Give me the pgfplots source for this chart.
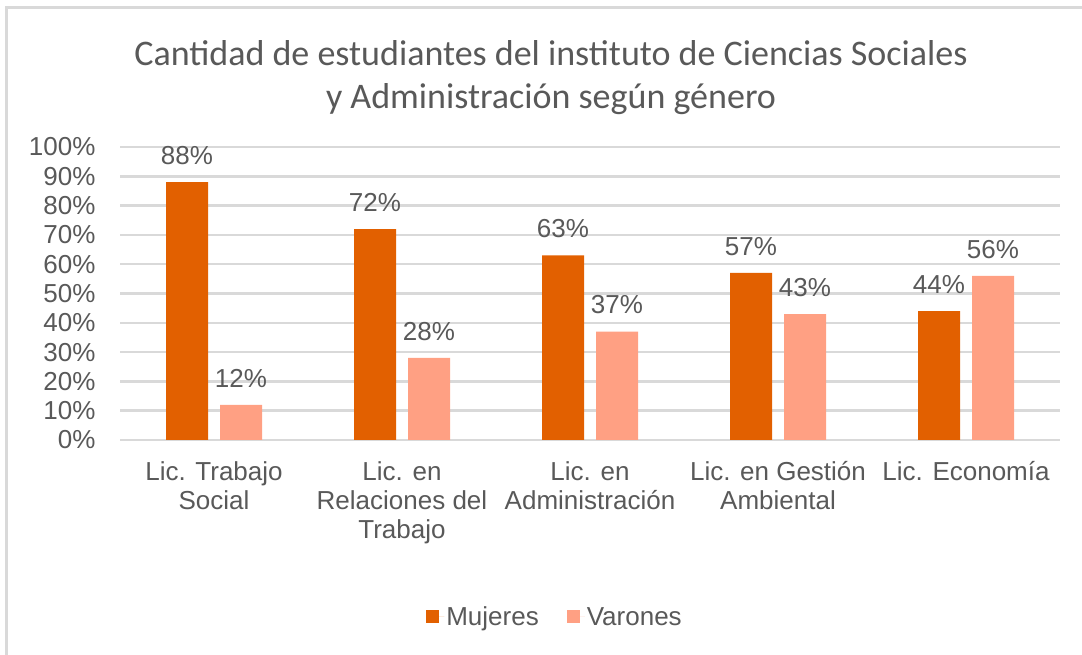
\documentclass[border=0pt]{standalone}
\usepackage{pgfplots}
\pgfplotsset{compat=1.18}
\usepackage{fontspec}
\setmainfont{Liberation Sans}
\newfontfamily\titlefont{Carlito}
\definecolor{muj}{HTML}{E26000}
\definecolor{var}{HTML}{FFA083}
\definecolor{txt}{HTML}{595959}
\definecolor{gridc}{HTML}{D9D9D9}
\begin{document}
\begin{tikzpicture}[x=1pt,y=1pt]
\useasboundingbox (0,0) rectangle (1082,655);
\fill[white] (0,0) rectangle (1082,655);
\draw[gridc, line width=3pt] (6.5,0) -- (6.5,647) -- (1082,647);
\node[font=\titlefont\fontsize{36}{43}\selectfont, text=txt, align=center] at (551,577) {Cantidad de estudiantes del instituto de Ciencias Sociales\\y Administración según género};
\begin{axis}[
  at={(120pt,215pt)}, anchor=south west,
  scale only axis, width=940pt, height=293pt,
  xmin=-0.5, xmax=4.5, ymin=0, ymax=100,
  ybar=12pt, bar width=42pt,
  axis line style={draw=none},
  xmajorgrids=false, ymajorgrids=true,
  grid style={draw=gridc, line width=2.5pt},
  major tick length=0pt,
  ytick={0,10,...,100},
  yticklabels={0\%,10\%,20\%,30\%,40\%,50\%,60\%,70\%,80\%,90\%,100\%},
  xtick={0,1,2,3,4},
  xticklabels={Lic. Trabajo\\Social, Lic. en\\Relaciones del\\Trabajo, Lic. en\\Administración, Lic. en Gestión\\Ambiental, Lic. Economía},
  tick label style={font=\fontsize{26}{29}\selectfont, text=txt},
  xticklabel style={align=center, yshift=-18pt},
  yticklabel style={xshift=-21pt},
  nodes near coords={\pgfmathprintnumber{\pgfplotspointmeta}\%},
  every node near coord/.append style={font=\fontsize{26}{29}\selectfont, text=txt, yshift=14pt},
  /pgf/number format/assume math mode=true,
  legend style={at={(0.4628,-0.604)}, anchor=center, draw=none, fill=none,
     font=\fontsize{26}{29}\selectfont, text=txt, legend columns=2,
     /tikz/every even column/.append style={column sep=26pt}},
  legend cell align=left,
  legend image code/.code={\fill[#1] (0pt,-6.5pt) rectangle (13pt,6.5pt); \path (0pt,0pt) -- (18pt,0pt);},
  clip=false,
]
\addplot[fill=muj, draw=none] coordinates {(0,88) (1,72) (2,63) (3,57) (4,44)};
\addplot[fill=var, draw=none] coordinates {(0,12) (1,28) (2,37) (3,43) (4,56)};
\legend{Mujeres, Varones}
\end{axis}
\end{tikzpicture}
\end{document}
